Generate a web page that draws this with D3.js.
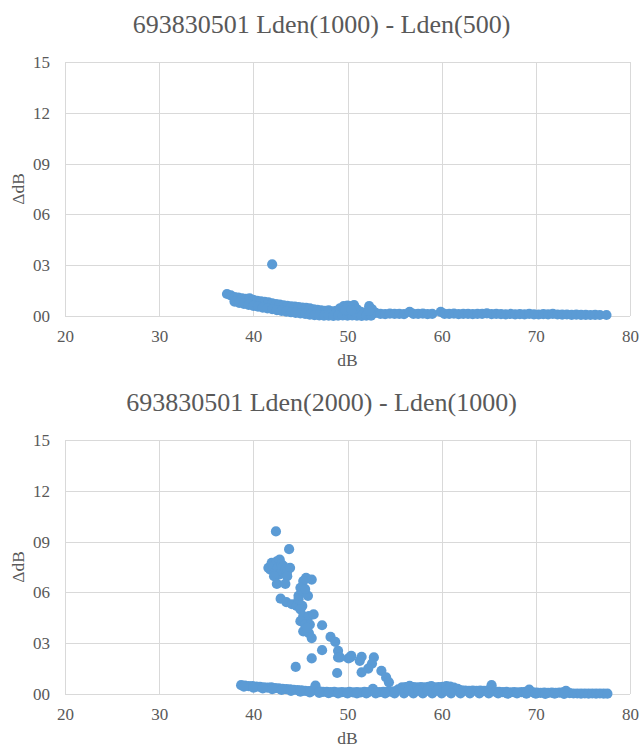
<!DOCTYPE html>
<html>
<head>
<meta charset="utf-8">
<script src="https://cdn.jsdelivr.net/npm/d3@7"></script>
<style>
  body { margin: 0; background: #fff; }
</style>
</head>
<body>
<svg id="canvas" width="639" height="746"></svg>
<script>
// tick values
const xTicks = [20, 30, 40, 50, 60, 70, 80]
const yTicks = [0, 0.03, 0.06, 0.09, 0.12, 0.15]

const titles = ['693830501 Lden(1000) - Lden(500)', '693830501 Lden(2000) - Lden(1000)']

// [dB, delta dB] pairs
const diff1000_500 = [
    [42.0, 0.0305],
    // upper edge of the band
    [37.2, 0.0130], [37.6, 0.0122], [38.0, 0.0112], [38.4, 0.0108], [38.8, 0.0104], [39.2, 0.0102],
    [39.6, 0.0104], [40.0, 0.0096], [40.4, 0.0090], [40.8, 0.0086], [41.2, 0.0083], [41.6, 0.0080],
    [42.0, 0.0075], [42.4, 0.0071], [42.8, 0.0067], [43.2, 0.0063], [43.6, 0.0060], [44.0, 0.0057],
    [44.4, 0.0055], [44.8, 0.0052], [45.2, 0.0050], [45.6, 0.0048], [46.0, 0.0045], [46.4, 0.0040],
    [46.8, 0.0036], [47.2, 0.0033], [47.6, 0.0030], [48.0, 0.0034], [48.4, 0.0028], [48.8, 0.0030],
    [49.2, 0.0045], [49.6, 0.0058], [50.0, 0.0062], [50.4, 0.0058], [50.7, 0.0064], [51.0, 0.0040],
    [51.4, 0.0025], [51.8, 0.0020], [52.3, 0.0058], [52.6, 0.0040], [53.0, 0.0018],
    // lower edge of the band
    [38.0, 0.0085], [38.5, 0.0078], [39.0, 0.0072], [39.5, 0.0066], [40.0, 0.0060], [40.5, 0.0055],
    [41.0, 0.0050], [41.5, 0.0045], [42.0, 0.0040], [42.5, 0.0035], [43.0, 0.0030], [43.5, 0.0026],
    [44.0, 0.0022], [44.5, 0.0018], [45.0, 0.0015], [45.5, 0.0012], [46.0, 0.0008], [46.5, 0.0005],
    [47.0, 0.0003], [47.5, 0.0002], [48.0, 0.0002], [48.5, 0.0001], [49.0, 0.0002], [49.5, 0.0003],
    [50.0, 0.0002], [50.5, 0.0003], [51.0, 0.0002], [51.5, 0.0001], [52.0, 0.0002], [52.5, 0.0002],
    [49.8, 0.0035], [50.4, 0.0035], [52.3, 0.0030],
    // flat tail
    [53.5, 0.0013], [54.0, 0.0011], [54.5, 0.0014], [55.0, 0.0012], [55.5, 0.0013], [56.0, 0.0011],
    [56.6, 0.0024], [57.0, 0.0013], [57.5, 0.0012], [58.0, 0.0014], [58.5, 0.0011], [59.0, 0.0013],
    [59.9, 0.0024], [60.3, 0.0013], [60.8, 0.0012], [61.3, 0.0014], [61.8, 0.0011], [62.3, 0.0012],
    [62.8, 0.0013], [63.3, 0.0011], [63.8, 0.0012], [64.3, 0.0013], [64.8, 0.0016], [65.3, 0.0011],
    [65.8, 0.0012], [66.3, 0.0011], [66.8, 0.0010], [67.3, 0.0012], [67.8, 0.0010], [68.3, 0.0011],
    [68.8, 0.0010], [69.3, 0.0012], [69.8, 0.0010], [70.3, 0.0009], [70.8, 0.0011], [71.3, 0.0010],
    [71.8, 0.0013], [72.3, 0.0009], [72.8, 0.0008], [73.3, 0.0009], [73.8, 0.0007], [74.3, 0.0008],
    [74.8, 0.0007], [75.3, 0.0007], [75.8, 0.0006], [76.3, 0.0007], [76.8, 0.0006], [77.5, 0.0006]
]

const diff2000_1000 = [
    // scattered cloud
    [42.4, 0.0960], [43.8, 0.0855],
    [41.6, 0.0745], [41.8, 0.0735], [41.95, 0.0775], [42.1, 0.0755], [42.3, 0.0725], [42.5, 0.0784],
    [42.6, 0.0745], [42.8, 0.0794], [42.8, 0.0706], [43.0, 0.0765], [43.0, 0.0725], [43.2, 0.0755],
    [43.4, 0.0735], [43.5, 0.0706], [43.6, 0.0725], [43.9, 0.0745], [42.2, 0.0696], [43.6, 0.0696],
    [42.5, 0.0650], [43.4, 0.0650],
    [42.9, 0.0563], [43.5, 0.0543], [44.1, 0.0530], [44.6, 0.0520], [45.2, 0.0520], [44.8, 0.0560],
    [45.6, 0.0686], [46.2, 0.0676], [45.3, 0.0667],
    [45.0, 0.0627], [44.8, 0.0580], [45.2, 0.0610], [45.8, 0.0580], [45.5, 0.0620],
    [45.0, 0.0500], [45.3, 0.0460], [45.9, 0.0460], [45.0, 0.0430], [45.5, 0.0410], [46.0, 0.0410],
    [45.3, 0.0370], [45.9, 0.0360], [46.2, 0.0330], [45.7, 0.0390], [46.4, 0.0470],
    [47.3, 0.0406],
    [48.2, 0.0337], [48.7, 0.0308], [49.0, 0.0255], [49.0, 0.0216],
    [47.3, 0.0259], [46.2, 0.0210], [44.5, 0.0160], [48.9, 0.0124],
    [50.1, 0.0210], [50.4, 0.0225], [51.5, 0.0220], [51.3, 0.0196], [52.8, 0.0216], [52.6, 0.0180],
    [52.2, 0.0150], [51.5, 0.0128], [53.6, 0.0137], [54.1, 0.0098], [54.4, 0.0069], [49.2, 0.0216],
    [50.3, 0.0216],
    // base band, upper edge
    [38.7, 0.0052], [39.1, 0.0050], [39.5, 0.0047], [39.9, 0.0046], [40.3, 0.0044], [40.7, 0.0042],
    [41.1, 0.0040], [41.5, 0.0038], [41.9, 0.0040], [42.3, 0.0035], [42.7, 0.0033], [43.1, 0.0031],
    [43.5, 0.0029], [43.9, 0.0027], [44.3, 0.0025], [44.7, 0.0023], [45.1, 0.0021], [45.5, 0.0019],
    [45.9, 0.0017], [46.3, 0.0020], [46.6, 0.0050], [47.0, 0.0015], [47.4, 0.0013], [47.8, 0.0012],
    [48.2, 0.0011], [48.6, 0.0012], [49.0, 0.0010], [49.4, 0.0011], [49.8, 0.0010], [50.2, 0.0012],
    [50.6, 0.0010], [51.0, 0.0011], [51.4, 0.0010], [51.8, 0.0012], [52.2, 0.0011], [52.7, 0.0030],
    [53.0, 0.0012], [53.4, 0.0011], [53.8, 0.0013], [54.2, 0.0012], [54.6, 0.0014], [55.0, 0.0016],
    [55.4, 0.0028], [55.8, 0.0040], [56.2, 0.0041], [56.6, 0.0048], [57.0, 0.0041], [57.4, 0.0040],
    [57.8, 0.0041], [58.2, 0.0040], [58.6, 0.0042], [58.9, 0.0046], [59.3, 0.0040], [59.7, 0.0041],
    [60.1, 0.0042], [60.5, 0.0046], [60.9, 0.0044], [61.3, 0.0038], [61.7, 0.0030], [62.1, 0.0022],
    [62.5, 0.0020], [62.9, 0.0019], [63.3, 0.0020], [63.7, 0.0019], [64.1, 0.0020], [64.5, 0.0018],
    [64.9, 0.0020], [65.3, 0.0052], [65.7, 0.0014], [66.1, 0.0012], [66.5, 0.0011], [66.9, 0.0012],
    [67.3, 0.0010], [67.7, 0.0011], [68.1, 0.0010], [68.5, 0.0011], [68.9, 0.0012], [69.3, 0.0026],
    [69.7, 0.0010], [70.1, 0.0008], [70.5, 0.0007], [70.9, 0.0008], [71.3, 0.0007], [71.7, 0.0008],
    [72.1, 0.0007], [72.5, 0.0008], [72.9, 0.0010], [73.2, 0.0018], [73.6, 0.0005], [74.0, 0.0003],
    [74.4, 0.0003], [74.8, 0.0002], [75.2, 0.0003], [75.6, 0.0002], [76.0, 0.0003], [76.4, 0.0002],
    [76.8, 0.0003], [77.2, 0.0002], [77.6, 0.0002],
    // base band, lower edge
    [39.0, 0.0044], [40.0, 0.0038], [41.0, 0.0033], [42.0, 0.0029], [43.0, 0.0024], [44.0, 0.0019],
    [45.0, 0.0014], [46.0, 0.0010], [47.0, 0.0007], [48.0, 0.0005], [49.0, 0.0004], [50.0, 0.0003],
    [51.0, 0.0004], [52.0, 0.0003], [53.0, 0.0004], [54.0, 0.0003], [55.0, 0.0004], [56.0, 0.0004],
    [56.5, 0.0020], [57.0, 0.0004], [57.5, 0.0020], [58.0, 0.0004], [58.5, 0.0020], [59.0, 0.0004],
    [59.5, 0.0020], [60.0, 0.0004], [60.5, 0.0020], [61.0, 0.0004], [62.0, 0.0003], [63.0, 0.0004],
    [64.0, 0.0003], [65.0, 0.0004], [66.0, 0.0003], [67.0, 0.0002], [68.0, 0.0003], [69.0, 0.0002],
    [70.0, 0.0002], [71.0, 0.0001], [72.0, 0.0002], [73.0, 0.0001]
]

// layout
var margin = { top: 62, right: 9, bottom: 430, left: 65 },
    width = 639 - margin.left - margin.right,
    height = 254,
    chartStep = 378
const dotColor = '#5b9bd5'
const gridColor = '#d9d9d9'
const textColor = '#595959'
const serif = "'Liberation Serif'"

var svg = d3.select('#canvas')

var x = d3.scaleLinear().domain([20, 80]).range([0, width])
var y = d3.scaleLinear().domain([0, 0.15]).range([height, 0])

drawChart(0, titles[0], diff1000_500)
drawChart(1, titles[1], diff2000_1000)

function drawChart(i, title, data) {
    var g = svg.append('g')
        .attr('transform', 'translate(' + margin.left + ',' + (margin.top + i * chartStep) + ')')

    // grid lines
    g.append('g')
        .selectAll('line.hgrid')
        .data(yTicks)
        .enter().append('line')
        .attr('x1', 0).attr('x2', width)
        .attr('y1', d => Math.round(y(d)) + 0.5).attr('y2', d => Math.round(y(d)) + 0.5)
        .attr('stroke', gridColor)
    g.append('g')
        .selectAll('line.vgrid')
        .data(xTicks)
        .enter().append('line')
        .attr('y1', 0).attr('y2', height)
        .attr('x1', d => Math.round(x(d)) + 0.5).attr('x2', d => Math.round(x(d)) + 0.5)
        .attr('stroke', gridColor)

    // axes (labels only, lines come from the grid)
    var xAxis = g.append('g')
        .attr('transform', 'translate(0,' + height + ')')
        .call(d3.axisBottom(x).tickValues(xTicks).tickSize(0).tickPadding(14))
    var yAxis = g.append('g')
        .call(d3.axisLeft(y).tickValues(yTicks).tickSize(0).tickPadding(15)
            .tickFormat(d => d3.format('02d')(Math.round(d * 100))))
    ;[xAxis, yAxis].forEach(a => {
        a.attr('font-family', serif).attr('font-size', 17)
        a.select('.domain').remove()
        a.selectAll('text')
            .attr('font-family', serif)
            .attr('font-size', 17)
            .attr('fill', textColor)
    })

    // dots
    g.append('g')
        .selectAll('circle')
        .data(data)
        .enter().append('circle')
        .attr('cx', d => x(d[0]))
        .attr('cy', d => y(d[1]))
        .attr('r', 5.1)
        .attr('fill', dotColor)

    // title
    g.append('text')
        .attr('x', width / 2 - 26)
        .attr('y', -29)
        .attr('text-anchor', 'middle')
        .attr('font-family', serif)
        .attr('font-size', 26)
        .attr('fill', textColor)
        .text(title)

    // axis titles
    g.append('text')
        .attr('x', width / 2)
        .attr('y', height + 50)
        .attr('text-anchor', 'middle')
        .attr('font-family', serif)
        .attr('font-size', 17.5)
        .attr('fill', textColor)
        .text('dB')
    g.append('text')
        .attr('transform', 'translate(' + (-41) + ',' + (height / 2) + ') rotate(-90)')
        .attr('text-anchor', 'middle')
        .attr('font-family', serif)
        .attr('font-size', 17.5)
        .attr('fill', textColor)
        .text('ΔdB')
}
</script>
</body>
</html>
